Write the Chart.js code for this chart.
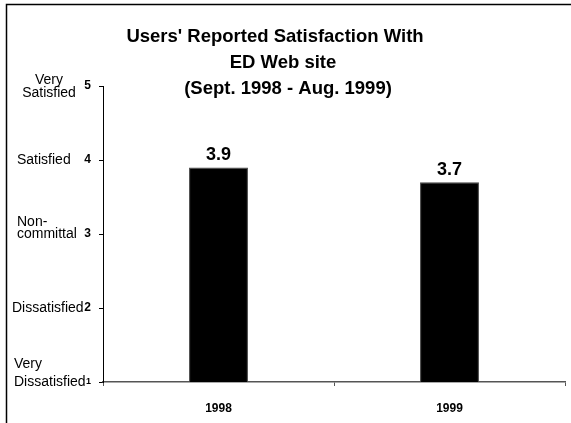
<!DOCTYPE html>
<html>
<head>
<meta charset="utf-8">
<script src="https://cdn.jsdelivr.net/npm/chart.js@4"></script>
<style>
html, body { margin: 0; padding: 0; background: #fff; }
canvas { display: block; }
</style>
</head>
<body>
<canvas id="chart" width="571" height="423"></canvas>
<script>
const categories = ["1998", "1999"];
const satisfaction = [3.9, 3.7];
const scaleValues = [1, 2, 3, 4, 5];
const scaleNames = [["Very", "Dissatisfied"], ["Dissatisfied"], ["Non-", "committal"], ["Satisfied"], ["Very", "Satisfied"]];
const titleLines = ["Users' Reported Satisfaction With", "ED Web site", "(Sept. 1998 - Aug. 1999)"];

const fontFamily = "'Liberation Sans', Arial, sans-serif";

// where each level name sits, relative to its tick
const namePlacement = [
    { align: "left", x: 14, dy: [-18, 0] },
    { align: "left", x: 12, dy: [0] },
    { align: "left", x: 17, dy: [-12, 0] },
    { align: "left", x: 17, dy: [0] },
    { align: "center", x: 49, dy: [-6, 7] }
];

const framePlugin = {
    id: "frame",
    beforeDraw(chart) {
        const ctx = chart.ctx;
        ctx.save();
        ctx.fillStyle = "#fff";
        ctx.fillRect(0, 0, chart.width, chart.height);
        ctx.strokeStyle = "#000";
        ctx.lineWidth = 1.5;
        ctx.beginPath();
        ctx.moveTo(6.5, chart.height);
        ctx.lineTo(6.5, 4.5);
        ctx.lineTo(chart.width, 4.5);
        ctx.stroke();
        ctx.restore();
    }
};

const textPlugin = {
    id: "texts",
    afterDraw(chart) {
        const ctx = chart.ctx;
        const y = chart.scales.y;
        ctx.save();
        ctx.fillStyle = "#000";

        // title
        ctx.font = "bold 18.5px " + fontFamily;
        ctx.textAlign = "center";
        ctx.textBaseline = "middle";
        const titleX = [275, 283, 288];
        const titleY = [37, 63, 89];
        titleLines.forEach((line, i) => ctx.fillText(line, titleX[i], titleY[i]));

        // level names next to the y ticks
        ctx.font = "14px " + fontFamily;
        scaleValues.forEach((v, i) => {
            const p = namePlacement[i];
            const py = y.getPixelForValue(v);
            ctx.textAlign = p.align;
            scaleNames[i].forEach((line, j) => ctx.fillText(line, p.x, py + p.dy[j]));
        });

        // value labels on the bars
        ctx.font = "bold 18px " + fontFamily;
        ctx.textAlign = "center";
        const meta = chart.getDatasetMeta(0);
        meta.data.forEach((bar, i) => {
            ctx.fillText(satisfaction[i].toFixed(1), bar.x, bar.y - 12);
        });
        ctx.restore();
    }
};

new Chart(document.getElementById("chart"), {
    type: "bar",
    data: {
        labels: categories,
        datasets: [
            {
                data: satisfaction,
                backgroundColor: "#000",
                borderColor: "#444",
                borderWidth: 1,
                barPercentage: 0.255,
                categoryPercentage: 1
            }
        ]
    },
    options: {
        responsive: false,
        animation: false,
        layout: {
            padding: { left: 0, right: 6, top: 86, bottom: 0 }
        },
        plugins: {
            legend: { display: false },
            title: { display: false },
            tooltip: { enabled: false }
        },
        scales: {
            x: {
                grid: {
                    offset: true,
                    drawOnChartArea: false,
                    tickLength: 4,
                    color: "#555"
                },
                border: { color: "#555", width: 1.5 },
                ticks: {
                    color: "#000",
                    padding: 15,
                    font: { family: fontFamily, size: 12, weight: "bold" }
                },
                afterFit: s => { s.height = 41; }
            },
            y: {
                min: 1,
                max: 5,
                grid: {
                    drawOnChartArea: false,
                    tickLength: 4,
                    color: "#000"
                },
                border: { color: "#000", width: 1 },
                ticks: {
                    stepSize: 1,
                    color: "#000",
                    padding: 8,
                    callback: v => String(v),
                    font: ctx => ({
                        family: fontFamily,
                        size: ctx.tick && ctx.tick.value === 1 ? 9 : 12,
                        weight: "bold"
                    })
                },
                afterFit: s => { s.width = 103; }
            }
        }
    },
    plugins: [framePlugin, textPlugin]
});
</script>
</body>
</html>
